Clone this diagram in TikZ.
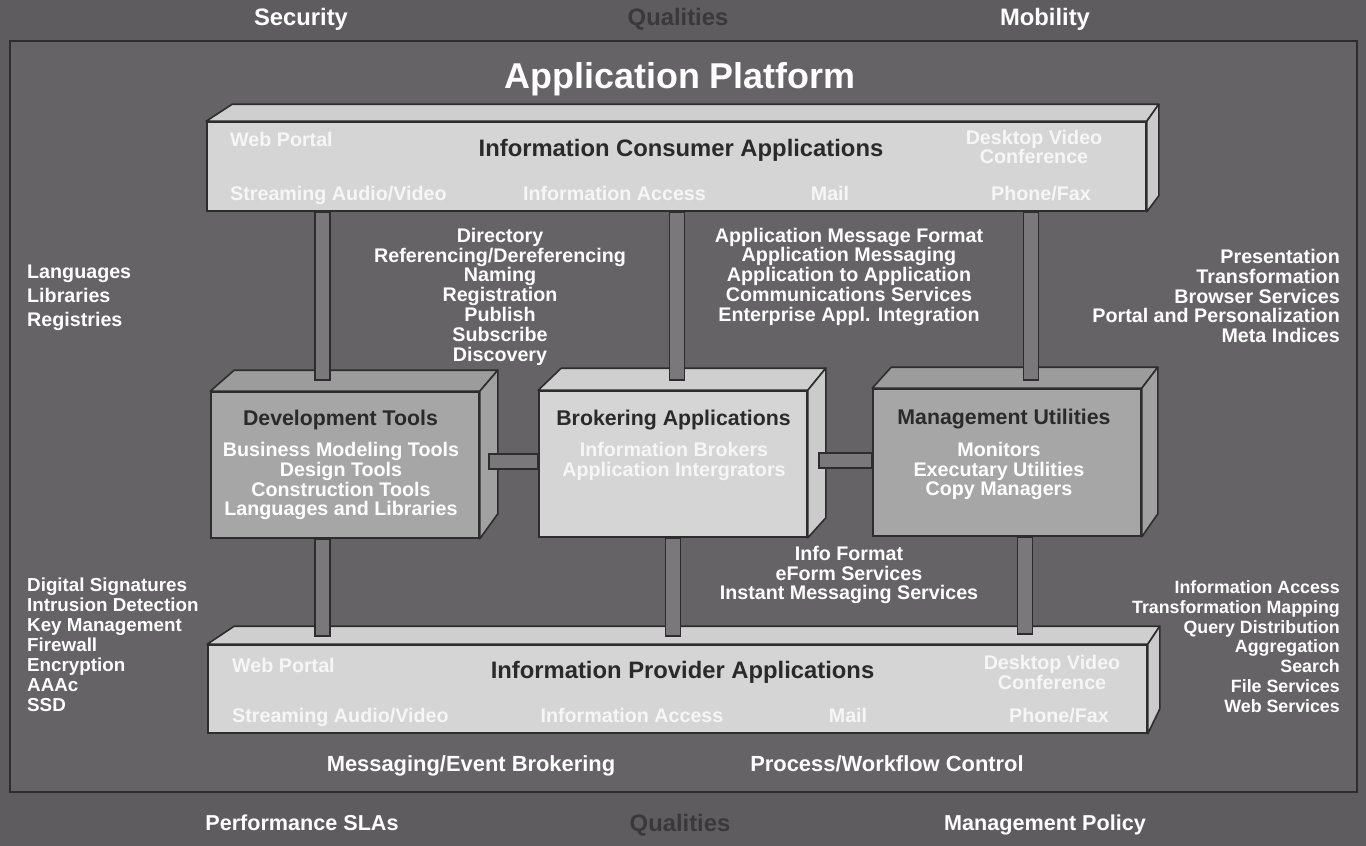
\documentclass[tikz,border=0pt]{standalone}
\usepackage{fontspec}
\setmainfont{Liberation Sans}

\definecolor{bgout}{RGB}{94,92,94}
\definecolor{bgin}{RGB}{101,99,101}
\definecolor{ink}{RGB}{45,45,45}
\definecolor{lite}{RGB}{213,213,213}
\definecolor{litetop}{RGB}{207,207,207}
\definecolor{liteside}{RGB}{203,203,203}
\definecolor{dark}{RGB}{166,166,166}
\definecolor{darktop}{RGB}{156,156,156}
\definecolor{darkside}{RGB}{161,161,161}
\definecolor{barfill}{RGB}{122,120,122}
\definecolor{titleink}{RGB}{42,42,42}
\definecolor{qualink}{RGB}{58,56,58}
\definecolor{itemink}{RGB}{246,246,246}

\tikzstyle{slab} = [rectangle,draw=ink,line width=1.6pt,fill=lite,inner sep=0pt]
\tikzstyle{slab2} = [slab,fill=dark]
\tikzstyle{face} = [draw=ink,line width=1.6pt,line join=round]
\tikzstyle{bar} = [draw=ink,fill=barfill,line width=1.6pt]
\tikzstyle{txt} = [text=white,inner sep=0pt,text depth=0pt,align=center,font=\bfseries\fontsize{19.7}{19.8}\selectfont]
\tikzstyle{item} = [txt,text=itemink]
\tikzstyle{item2} = [item,font=\bfseries\fontsize{19.7}{18}\selectfont]
\tikzstyle{head} = [txt,text=titleink,font=\bfseries\fontsize{21.3}{22}\selectfont]
\tikzstyle{head2} = [txt,text=titleink,font=\bfseries\fontsize{23.8}{24}\selectfont]
\tikzstyle{qual} = [txt,font=\bfseries\fontsize{23.8}{24}\selectfont]
\tikzstyle{qual2} = [txt,font=\bfseries\fontsize{21.6}{24}\selectfont]

\begin{document}
\begin{tikzpicture}[x=1pt,y=-1pt]

\useasboundingbox (0,0) rectangle (1366,846);
\fill[bgout] (0,0) rectangle (1366,846);
\draw[ink,line width=1.6pt,fill=bgin] (10,41) rectangle (1357,792);

% boxes
\node[slab,minimum width=939pt,minimum height=89pt] (cons) at (676.5,166.5) {};
\draw[face,fill=litetop] (cons.north west) -- ++(26,-17) -- ([shift={(12,-17)}]cons.north east) -- (cons.north east) -- cycle;
\draw[face,fill=liteside] (cons.north east) -- ++(12,-17) -- ([shift={(12,-16)}]cons.south east) -- (cons.south east) -- cycle;

\node[slab,minimum width=939pt,minimum height=88pt] (prov) at (677.5,689) {};
\draw[face,fill=litetop] (prov.north west) -- ++(27,-18) -- ([shift={(12,-18)}]prov.north east) -- (prov.north east) -- cycle;
\draw[face,fill=liteside] (prov.north east) -- ++(12,-18) -- ([shift={(12,-25)}]prov.south east) -- (prov.south east) -- cycle;

\node[slab2,minimum width=268pt,minimum height=146pt] (dev) at (345,465) {};
\draw[face,fill=darktop] (dev.north west) -- ++(24,-21) -- ([shift={(18,-21)}]dev.north east) -- (dev.north east) -- cycle;
\draw[face,fill=darkside] (dev.north east) -- ++(18,-21) -- ([shift={(18,-25)}]dev.south east) -- (dev.south east) -- cycle;

\node[slab,minimum width=268pt,minimum height=146pt] (brok) at (673,464) {};
\draw[face,fill=litetop] (brok.north west) -- ++(23,-22) -- ([shift={(18,-22)}]brok.north east) -- (brok.north east) -- cycle;
\draw[face,fill=liteside] (brok.north east) -- ++(18,-22) -- ([shift={(18,-20)}]brok.south east) -- (brok.south east) -- cycle;

\node[slab2,minimum width=268pt,minimum height=147pt] (mgmt) at (1007,462.5) {};
\draw[face,fill=darktop] (mgmt.north west) -- ++(19,-21) -- ([shift={(16,-21)}]mgmt.north east) -- (mgmt.north east) -- cycle;
\draw[face,fill=darkside] (mgmt.north east) -- ++(16,-21) -- ([shift={(16,-23)}]mgmt.south east) -- (mgmt.south east) -- cycle;

% bars
\coordinate (c1) at (322.5,0);
\coordinate (c2) at (677,0);
\coordinate (c3) at (1031,0);
\coordinate (c4) at (673,0);
\coordinate (c5) at (1025,0);
\coordinate (r1) at (0,461.5);
\coordinate (r2) at (0,460.5);

\draw[bar] ([xshift=-7.5pt]cons.south -| c1) rectangle ([xshift=7.5pt,yshift=11pt]dev.north -| c1);
\draw[bar] ([xshift=-7.5pt]cons.south -| c2) rectangle ([xshift=7.5pt,yshift=10pt]brok.north -| c2);
\draw[bar] ([xshift=-7.5pt]cons.south -| c3) rectangle ([xshift=7.5pt,yshift=8pt]mgmt.north -| c3);
\draw[bar] ([xshift=-7.5pt]dev.south -| c1) rectangle ([xshift=7.5pt,yshift=8pt]prov.north -| c1);
\draw[bar] ([xshift=-7.5pt]brok.south -| c4) rectangle ([xshift=7.5pt,yshift=8pt]prov.north -| c4);
\draw[bar] ([xshift=-7.5pt]mgmt.south -| c5) rectangle ([xshift=7.5pt,yshift=10pt]prov.north -| c5);
\draw[bar] ([xshift=9pt,yshift=7.5pt]dev.east |- r1) rectangle ([yshift=-7.5pt]brok.west |- r1);
\draw[bar] ([xshift=11pt,yshift=7.5pt]brok.east |- r2) rectangle ([yshift=-7.5pt]mgmt.west |- r2);

% box texts
\node[head2] (ctitle) at (681,148) {Information Consumer Applications};
\node[item,anchor=west] (cwp) at (230,139) {Web Portal};
\node[item,anchor=west] (csav) at (230,193) {Streaming Audio/Video};
\node[item] (cia) at (614.5,193) {Information Access};
\node[item] (cmail) at (830,193) {Mail};
\node[item] (cpf) at (1041,193) {Phone/Fax};
\node[item2] (cdvc) at (1034,147) {Desktop Video\\Conference};

\node[head2] (ptitle) at (682.5,670) {Information Provider Applications};
\node[item,anchor=west] (pwp) at (232,665) {Web Portal};
\node[item,anchor=west] (psav) at (232,715) {Streaming Audio/Video};
\node[item] (pia) at (632,715) {Information Access};
\node[item] (pmail) at (848,715) {Mail};
\node[item] (ppf) at (1059,715) {Phone/Fax};
\node[item2] (pdvc) at (1052,672.5) {Desktop Video\\Conference};

\node[head] (dtitle) at (340.5,418) {Development Tools};
\node[txt] (dlist) at (341,479) {Business Modeling Tools\\Design Tools\\Construction Tools\\Languages and Libraries};
\node[head] (btitle) at (673.5,418) {Brokering Applications};
\node[item] (blist) at (674,459) {Information Brokers\\Application Intergrators};
\node[head] (mtitle) at (1004,417) {Management Utilities};
\node[txt] (mlist) at (999,469) {Monitors\\Executary Utilities\\Copy Managers};

% labels
\node[qual] (sec) at (301,17) {Security};
\node[qual,text=qualink] (qtop) at (678,17) {Qualities};
\node[qual] (mob) at (1045,17) {Mobility};
\node[qual2] (perf) at (302,823) {Performance SLAs};
\node[qual,text=qualink] (qbot) at (680,823) {Qualities};
\node[qual2] (mpol) at (1045,823) {Management Policy};
\node[txt,font=\bfseries\fontsize{35.9}{38}\selectfont] (plat) at (680,75) {Application Platform};

\node[txt,anchor=west,align=left,font=\bfseries\fontsize{19.7}{24}\selectfont] (lang) at (27,296) {Languages\\Libraries\\Registries};
\node[txt] (dir) at (500,294.5) {Directory\\Referencing/Dereferencing\\Naming\\Registration\\Publish\\Subscribe\\Discovery};
\node[txt] (amf) at (849,274.5) {Application Message Format\\Application Messaging\\Application to Application\\Communications Services\\Enterprise Appl. Integration};
\node[txt,anchor=east,align=right] (pres) at (1340,296) {Presentation\\Transformation\\Browser Services\\Portal and Personalization\\Meta Indices};
\node[txt,anchor=west,align=left,font=\bfseries\fontsize{18.8}{20}\selectfont] (dsig) at (27,645) {Digital Signatures\\Intrusion Detection\\Key Management\\Firewall\\Encryption\\AAAc\\SSD};
\node[txt,anchor=east,align=right,font=\bfseries\fontsize{17.8}{19.8}\selectfont] (iacc) at (1340,646.5) {Information Access\\Transformation Mapping\\Query Distribution\\Aggregation\\Search\\File Services\\Web Services};
\node[txt] (ifmt) at (849,573) {Info Format\\eForm Services\\Instant Messaging Services};
\node[txt,font=\bfseries\fontsize{21.9}{24}\selectfont] (meb) at (471,764) {Messaging/Event Brokering};
\node[txt,font=\bfseries\fontsize{21.9}{24}\selectfont] (pwc) at (887,764) {Process/Workflow Control};

\end{tikzpicture}
\end{document}
